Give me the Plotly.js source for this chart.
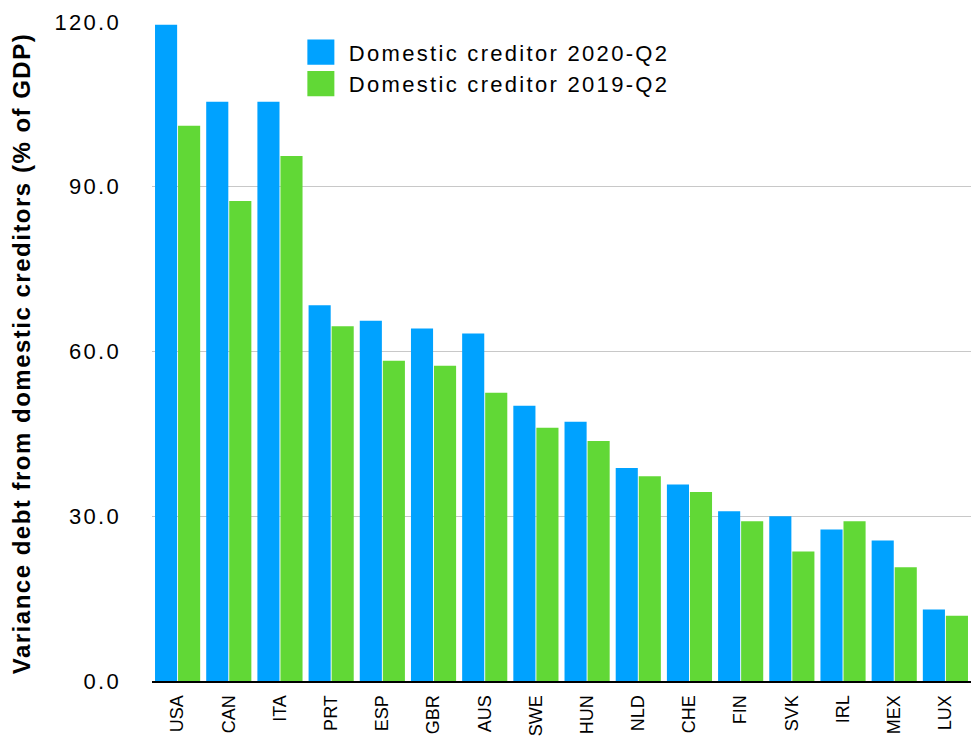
<!DOCTYPE html>
<html>
<head>
<meta charset="utf-8">
<script src="https://cdn.plot.ly/plotly-3.0.1.min.js"></script>
<style>
html,body{margin:0;padding:0;background:#fff;overflow:hidden;}
#chart{width:971px;height:736px;}
.ytick text{letter-spacing:2.3px;}
.legendtext{letter-spacing:2.3px;}
.annotation-text{letter-spacing:1.5px;}
#chart .legendpoints path{transform:translate(28px,0px) scale(2.25,2.1);}
</style>
</head>
<body>
<div id="chart"></div>
<script>
const countries = ["USA","CAN","ITA","PRT","ESP","GBR","AUS","SWE","HUN","NLD","CHE","FIN","SVK","IRL","MEX","LUX"];
const q2020 = [119.5,105.5,105.5,68.4,65.6,64.2,63.3,50.1,47.2,38.8,35.8,30.9,30.0,27.6,25.6,13.0];
const q2019 = [101.1,87.4,95.6,64.6,58.3,57.4,52.5,46.1,43.7,37.3,34.4,29.1,23.6,29.1,20.7,11.9];
const seriesNames = ["Domestic creditor 2020-Q2","Domestic creditor 2019-Q2"];
const yTitle = "Variance debt from domestic creditors (% of GDP)";

const font = "Liberation Sans, Arial, Helvetica, sans-serif";
const data = [
  {type:"bar", x:countries, y:q2020, name:seriesNames[0], marker:{color:"#00A2FF"}},
  {type:"bar", x:countries, y:q2019, name:seriesNames[1], marker:{color:"#61D836"}}
];
const layout = {
  width:971, height:736,
  margin:{l:152, r:0, t:22, b:55},
  paper_bgcolor:"#fff", plot_bgcolor:"#fff",
  barmode:"group", bargap:0.1, bargroupgap:0.04,
  font:{family:font, color:"#000"},
  showlegend:true,
  legend:{x:0.172, y:0.986, xanchor:"left", yanchor:"top", bgcolor:"rgba(0,0,0,0)",
          font:{size:22, family:font, color:"#000"}, itemwidth:46, tracegroupgap:0},
  xaxis:{type:"category", tickangle:-90, tickfont:{size:18, family:font}, showgrid:false,
         showline:true, linecolor:"#000", linewidth:2, ticks:"", ticklabelstandoff:5, automargin:false},
  yaxis:{range:[0,120], dtick:30, tickformat:".1f", tickfont:{size:22, family:font},
         showgrid:true, gridcolor:"#c8c8c8", gridwidth:1, zeroline:false, showline:false,
         ticks:"", ticklabelstandoff:30, automargin:false},
  annotations:[{text:yTitle, xref:"paper", yref:"paper", x:-0.159, y:0.497,
                xanchor:"center", yanchor:"middle", textangle:-90, showarrow:false,
                font:{size:24, family:font, weight:"bold", color:"#000"}}]
};
Plotly.newPlot("chart", data, layout, {displayModeBar:false, staticPlot:true});
</script>
</body>
</html>
